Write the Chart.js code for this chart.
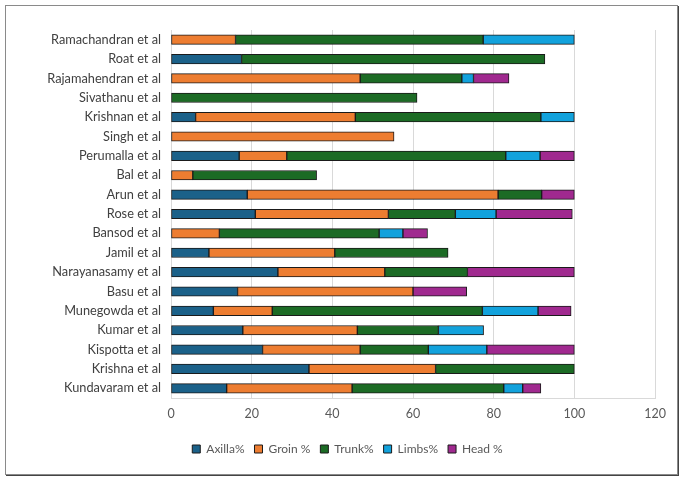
<!DOCTYPE html>
<html>
<head>
<meta charset="utf-8">
<script src="https://cdn.jsdelivr.net/npm/chart.js@4/dist/chart.umd.min.js"></script>
<style>
html,body{margin:0;padding:0;background:#fff;}
#wrap{position:relative;width:686px;height:484px;}
#frame{position:absolute;left:5px;top:5px;width:673px;height:470px;border:1px solid #8a8a8a;box-shadow:1px 1px 0 #444;box-sizing:border-box;pointer-events:none;}
canvas{position:absolute;left:0;top:0;}
</style>
</head>
<body>
<div id="wrap">
<canvas id="c" width="686" height="484"></canvas>
<div id="frame"></div>
</div>
<script>
const categories = ["Ramachandran et al","Roat et al","Rajamahendran et al","Sivathanu et al","Krishnan et al","Singh et al","Perumalla et al","Bal et al","Arun et al","Rose et al","Bansod et al","Jamil et al","Narayanasamy et al","Basu et al","Munegowda et al","Kumar et al","Kispotta et al","Krishna et al","Kundavaram et al"];
const axilla = [0,17.5,0,0,6.1,0,16.9,0,18.9,20.9,0,9.4,26.5,16.5,10.5,17.8,22.7,34.2,13.8];
const groin  = [16,0,46.9,0,39.6,55.3,11.8,5.4,62.2,33,12,31.2,26.5,43.5,14.6,28.4,24.2,31.4,31.1];
const trunk  = [61.4,75.2,25.2,61,46,0,54.3,30.7,10.8,16.6,39.6,28.1,20.5,0,52.1,20.1,16.9,34.4,37.6];
const limbs  = [22.6,0,2.9,0,8.3,0,8.5,0,0,10.1,5.9,0,0,0,13.8,11.2,14.5,0,4.7];
const head   = [0,0,8.8,0,0,0,8.5,0,8.1,18.9,6.1,0,26.5,13.3,8.2,0,21.7,0,4.5];
const seriesNames = ["Axilla%","Groin %","Trunk%","Limbs%","Head %"];
const xTicks = [0,20,40,60,80,100,120];

const colors = ["#1B6189","#ED7D31","#1C6B25","#12A2DC","#A0298F"];
const vals = [axilla,groin,trunk,limbs,head];

new Chart(document.getElementById('c'), {
  type: 'bar',
  data: {
    labels: categories,
    datasets: seriesNames.map((n,i)=>({
      label: n,
      data: vals[i].map(v => v === 0 ? null : v),
      backgroundColor: colors[i],
      borderColor: '#1a1a1a',
      borderWidth: 1,
      borderSkipped: false,
      barThickness: 9.5
    }))
  },
  options: {
    indexAxis: 'y',
    responsive: false,
    animation: false,
    layout: {padding: {left: 40, right: 31, top: 30, bottom: 19}},
    plugins: {
      tooltip: {enabled: false},
      legend: {
        position: 'bottom',
        labels: {
          boxWidth: 8, boxHeight: 8, padding: 10,
          color: '#595959',
          font: {family: 'Lato', size: 12}
        }
      }
    },
    scales: {
      x: {
        stacked: true,
        min: 0, max: 120,
        afterBuildTicks: s => { s.ticks = xTicks.map(v=>({value:v})); },
        afterFit: s => { s.height = 35; },
        grid: {color: '#d9d9d9', drawTicks: false},
        border: {color: '#d9d9d9'},
        ticks: {padding: 8, color: '#595959', font: {family: 'Lato', size: 12.5}}
      },
      y: {
        stacked: true,
        afterFit: s => { s.width = 131; },
        grid: {display: false, drawTicks: false},
        border: {display: true, color: '#d9d9d9'},
        ticks: {padding: 10, color: '#404040', font: {family: 'Lato', size: 12.75}}
      }
    }
  }
});
</script>
</body>
</html>
